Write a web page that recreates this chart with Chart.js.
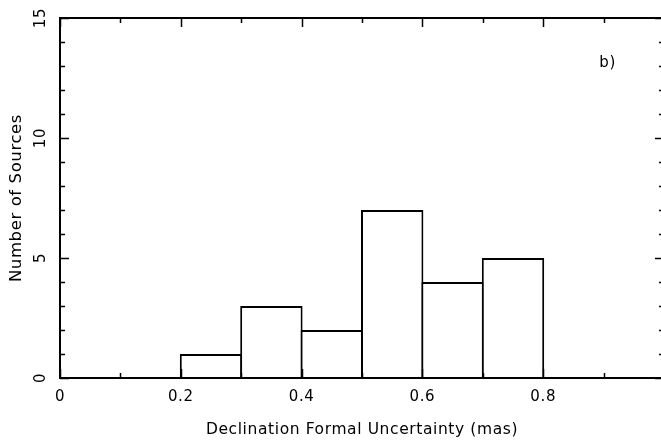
<!DOCTYPE html>
<html>
<head>
<meta charset="utf-8">
<script src="https://cdn.jsdelivr.net/npm/chart.js@4"></script>
<style>
  html, body { margin: 0; padding: 0; background: #fff; overflow: hidden; }
  #wrap { width: 664px; height: 440px; position: relative; }
</style>
</head>
<body>
<div id="wrap"><canvas id="myChart"></canvas></div>
<script>
        // histogram bins (left edge of each bin, width 0.1 mas)
        const binStarts = [0.2, 0.3, 0.4, 0.5, 0.6, 0.7];
        const binWidth = 0.1;
        const counts = [1, 3, 2, 7, 4, 5];

        const xTickLabels = [0, 0.2, 0.4, 0.6, 0.8];
        const yTickLabels = [0, 5, 10, 15];
        const panelLabel = 'b)';

        const fontName = '"DejaVu Sans", sans-serif';

        // the original lettering is a bit wider than DejaVu
        const spacingPlugin = {
            id: 'spacing',
            beforeDraw(chart) { chart.ctx.letterSpacing = '0.6px'; }
        };

        // draws the inward tick marks on all four sides, rotated y labels and the panel tag
        const framePlugin = {
            id: 'frame',
            afterDraw(chart) {
                const c = chart.ctx;
                const xs = chart.scales.x;
                const ys = chart.scales.y;
                const a = chart.chartArea;
                c.save();
                c.strokeStyle = '#000';
                c.lineWidth = 1.5;
                c.beginPath();
                for (let i = 0; i <= 10; i++) {
                    const v = i / 10;
                    const px = Math.round(xs.getPixelForValue(v)) + 0.5;
                    const len = (i % 2 === 0) ? 9 : 5;
                    c.moveTo(px, a.bottom); c.lineTo(px, a.bottom - len);
                    c.moveTo(px, a.top); c.lineTo(px, a.top + len);
                }
                for (let v = 0; v <= ys.max; v++) {
                    const py = Math.round(ys.getPixelForValue(v)) + 0.5;
                    const len = (v % 5 === 0) ? 9 : 5;
                    c.moveTo(a.left, py); c.lineTo(a.left + len, py);
                    c.moveTo(a.right, py); c.lineTo(a.right - len, py);
                }
                c.stroke();

                // frame
                c.lineWidth = 2;
                c.strokeRect(a.left, a.top, a.right - a.left, a.bottom - a.top);

                // y tick labels, rotated like the original
                c.fillStyle = '#000';
                c.font = '15px ' + fontName;
                c.textAlign = 'center';
                c.textBaseline = 'middle';
                yTickLabels.forEach(v => {
                    const py = ys.getPixelForValue(v);
                    c.save();
                    c.translate(a.left - 19, py);
                    c.rotate(-Math.PI / 2);
                    c.fillText(String(v), 0, 0);
                    c.restore();
                });

                // panel tag
                c.textAlign = 'left';
                c.fillText(panelLabel, xs.getPixelForValue(0.893), ys.getPixelForValue(13.1));
                c.restore();
            }
        };

        const ctx = document.getElementById('myChart').getContext('2d');

        const myChart = new Chart(ctx, {
            type: 'bar',
            data: {
                datasets: [{
                    label: 'Number of Sources',
                    data: binStarts.map((s, i) => ({ x: s + binWidth / 2, y: counts[i] })),
                    backgroundColor: '#fff',
                    borderColor: '#000',
                    borderWidth: 2,
                    // a touch wider than the bin so neighbouring borders overlap into one line
                    barPercentage: 1.033,
                    categoryPercentage: 1,
                    borderSkipped: 'bottom'
                }]
            },
            options: {
                responsive: true,
                maintainAspectRatio: false,
                animation: false,
                layout: { padding: { left: 0, top: 18, right: 0, bottom: 0 } },
                plugins: {
                    legend: { display: false },
                    tooltip: { enabled: false }
                },
                scales: {
                    x: {
                        type: 'linear',
                        min: 0,
                        max: 1,
                        offset: false,
                        grid: { display: false, drawTicks: false },
                        border: { display: false },
                        afterBuildTicks: s => { s.ticks = xTickLabels.map(v => ({ value: v })); },
                        afterFit: s => { s.height = 62; },
                        ticks: {
                            padding: 10,
                            color: '#000',
                            font: { family: fontName, size: 15 },
                            maxRotation: 0,
                            callback: v => String(v)
                        },
                        title: {
                            display: true,
                            text: 'Declination Formal Uncertainty (mas)',
                            color: '#000',
                            font: { family: fontName, size: 15.5 },
                            padding: { top: 0, bottom: 1 }
                        }
                    },
                    y: {
                        min: 0,
                        max: 15,
                        grid: { display: false, drawTicks: false },
                        border: { display: false },
                        afterFit: s => { s.width = 60; },
                        ticks: { display: false, stepSize: 5 },
                        title: {
                            display: true,
                            text: 'Number of Sources',
                            color: '#000',
                            font: { family: fontName, size: 16.5 },
                            padding: { top: 7, bottom: 0 }
                        }
                    }
                }
            },
            plugins: [spacingPlugin, framePlugin]
        });
</script>
</body>
</html>
